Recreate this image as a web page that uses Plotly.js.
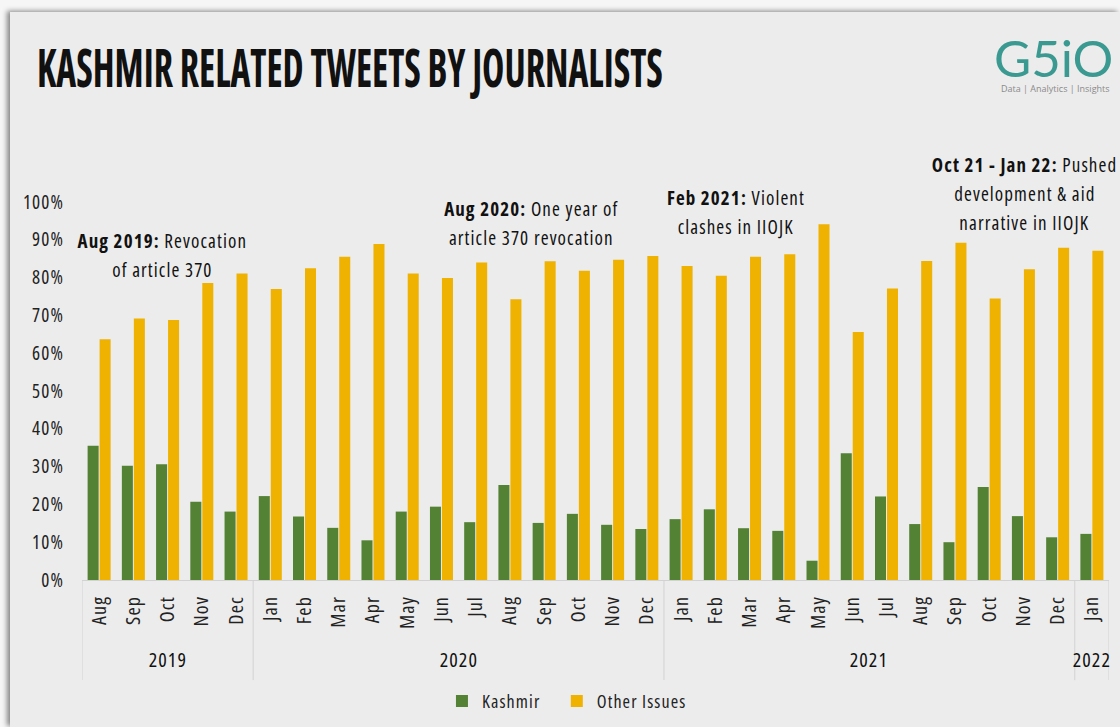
<!DOCTYPE html>
<html><head><meta charset="utf-8">
<script src="https://cdn.plot.ly/plotly-3.0.1.min.js"></script>
<style>
html,body{margin:0;padding:0;background:#f6f6f6;overflow:hidden;width:1120px;height:727px;}
#card{position:absolute;left:10px;top:12px;width:1110px;height:715px;background:#ececec;box-shadow:-3px -1px 5px rgba(0,0,0,0.45);}
#chart{width:1110px;height:715px;}
#chart text{font-stretch:condensed;letter-spacing:1.1px;}
#chart text.gtitle{letter-spacing:0;}
</style></head><body>
<div id="card"><div id="chart"></div></div>
<script>
const years = ['2019','2019','2019','2019','2019',
  '2020','2020','2020','2020','2020','2020','2020','2020','2020','2020','2020','2020',
  '2021','2021','2021','2021','2021','2021','2021','2021','2021','2021','2021','2021',
  '2022'];
const months = ['Aug','Sep','Oct','Nov','Dec',
  'Jan','Feb','Mar','Apr','May','Jun','Jul','Aug','Sep','Oct','Nov','Dec',
  'Jan','Feb','Mar','Apr','May','Jun','Jul','Aug','Sep','Oct','Nov','Dec',
  'Jan'];
const kashmir = [0.355,0.302,0.306,0.207,0.181,
  0.222,0.168,0.138,0.105,0.181,0.194,0.153,0.251,0.151,0.175,0.146,0.135,
  0.161,0.187,0.137,0.130,0.051,0.335,0.221,0.148,0.100,0.246,0.169,0.113,
  0.122];
const otherIssues = [0.637,0.692,0.688,0.786,0.811,
  0.770,0.825,0.855,0.889,0.811,0.799,0.840,0.743,0.843,0.818,0.847,0.857,
  0.831,0.805,0.855,0.862,0.941,0.656,0.771,0.844,0.892,0.745,0.822,0.879,
  0.871];
const seriesNames = ['Kashmir','Other Issues'];
const seriesColors = ['#548235','#EFB200'];
const chartTitle = 'KASHMIR RELATED TWEETS BY JOURNALISTS';
const notes = [
  {lines:['<b>Aug 2019:</b> Revocation','of article 370'], x:0.078, y:0.858},
  {lines:['<b>Aug 2020:</b> One year of','article 370 revocation'], x:0.438, y:0.942},
  {lines:['<b>Feb 2021:</b> Violent','clashes in IIOJK'], x:0.637, y:0.971},
  {lines:['<b>Oct 21 - Jan 22:</b> Pushed','development &amp; aid','narrative in IIOJK'], x:0.918, y:1.02}
];

const font = '"Open Sans", sans-serif';

// unique category keys built from the month/year arrays
const cats = months.map((m, i) => m + ' ' + years[i]);

const data = [
  {type:'bar', name:seriesNames[0], x:cats, y:kashmir, marker:{color:seriesColors[0]}},
  {type:'bar', name:seriesNames[1], x:cats, y:otherIssues, marker:{color:seriesColors[1]}}
];

const annotations = [];
const lineStep = 29/378;
notes.forEach(n => {
  const k = n.lines.length;
  n.lines.forEach((t, i) => {
    annotations.push({
      xref:'paper', yref:'paper', x:n.x, y:n.y + ((k-1)/2 - i)*lineStep,
      xanchor:'center', yanchor:'middle', showarrow:false, text:t,
      font:{family:font, size:19, color:'#111'}
    });
  });
});

// year group labels and dividers derived from the years array
const shapes = [];
const groups = [];
years.forEach((y, i) => {
  if (i === 0 || years[i-1] !== y) groups.push({year:y, start:i, end:i});
  else groups[groups.length-1].end = i;
});
groups.forEach(g => {
  annotations.push({xref:'x', yref:'paper', x:(g.start + g.end)/2, y:-0.209, xanchor:'center', yanchor:'middle',
    showarrow:false, text:g.year, font:{family:font, size:20, color:'#111'}});
  shapes.push({type:'line', xref:'x', yref:'paper', x0:g.start-0.5, x1:g.start-0.5, y0:0, y1:-0.265,
    line:{color:'#d2d2d2', width:1}});
});
shapes.push({type:'line', xref:'x', yref:'paper', x0:years.length-0.5, x1:years.length-0.5, y0:0, y1:-0.265,
  line:{color:'#d2d2d2', width:1}});

annotations.push({xref:'paper', yref:'paper', x:0.946, y:1.383, xanchor:'center', yanchor:'middle', height:44,
  showarrow:false, text:'G5iO', font:{family:'Lato, "Open Sans", sans-serif', size:51, color:'#3a9a91'}});
annotations.push({xref:'paper', yref:'paper', x:0.948, y:1.300, xanchor:'center', yanchor:'middle',
  showarrow:false, text:'Data | Analytics | Insights', font:{family:'"Open Sans", sans-serif', size:9, color:'#8a8a8a'}});

const layout = {
  width:1110, height:715,
  paper_bgcolor:'#ececec', plot_bgcolor:'#ececec',
  margin:{l:72, r:11, t:190, b:147},
  title:{text:chartTitle, x:27/1110, xanchor:'left', xref:'container', y:1-38/715, yanchor:'top', yref:'container',
    font:{family:font, size:53, weight:'bold', color:'#111'}},
  barmode:'group', bargap:0.3, bargroupgap:0.08,
  showlegend:true,
  legend:{orientation:'h', x:0.48, xanchor:'center', y:0.036, yref:'container', yanchor:'middle',
    font:{family:font, size:18, color:'#222'}},
  xaxis:{type:'category', tickmode:'array', tickvals:cats, ticktext:months, tickangle:-90,
    showline:true, linecolor:'#d2d2d2', linewidth:1, ticks:'', ticklabelstandoff:7,
    tickfont:{family:font, size:20, color:'#222'}, showgrid:false, range:[-0.5, cats.length-0.5]},
  yaxis:{range:[0,1], dtick:0.1, tickformat:'.0%', showgrid:false, zeroline:false, showline:false,
    ticklabelstandoff:17, tickfont:{family:font, size:19, color:'#222'}},
  annotations:annotations,
  shapes:shapes
};

Plotly.newPlot('chart', data, layout, {staticPlot:true}).then(gd => {
  gd.querySelectorAll('.annotation-text').forEach(el => {
    const s = el.textContent;
    if (s === 'G5iO' || s.indexOf('Analytics') >= 0) { el.style.fontStretch = 'normal'; el.style.letterSpacing = '0'; }
  });
  const t = gd.querySelector('.gtitle');
  if (t) {
    const bb = t.getBBox();
    const s = 626 / bb.width;
    const x0 = bb.x;
    t.setAttribute('transform', 'translate(' + x0 + ',0) scale(' + s + ',1) translate(' + (-x0) + ',0)');
  }
});
</script>
</body></html>
